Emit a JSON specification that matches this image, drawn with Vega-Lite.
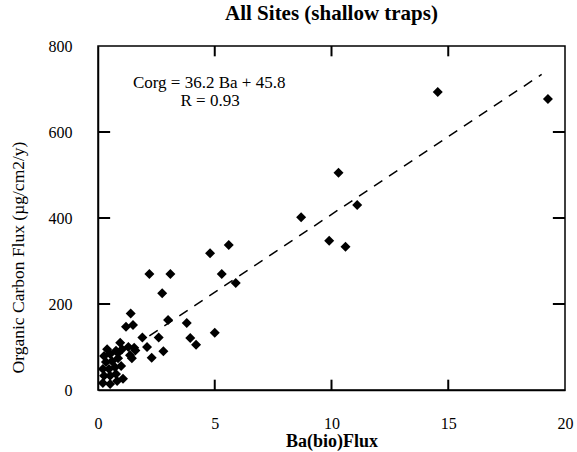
{
  "$schema": "https://vega.github.io/schema/vega-lite/v6.json",
  "width": 467,
  "height": 344,
  "autosize": {"type": "none"},
  "padding": {"left": 98, "top": 46, "right": 12, "bottom": 62},
  "background": "white",
  "config": {
    "font": "Liberation Serif",
    "view": {"stroke": "black", "strokeWidth": 1.5},
    "axis": {"grid": false, "domainColor": "black", "domainWidth": 1.5, "labelColor": "black", "titleColor": "black", "labelFont": "Liberation Serif", "titleFont": "Liberation Serif", "labelFontSize": 16}
  },
  "title": {"text": "All Sites (shallow traps)", "font": "Liberation Serif", "fontSize": 21, "fontWeight": "bold", "color": "black", "offset": 14, "anchor": "middle"},
  "datasets": {
    "pts": [
      {"ba": 14.55, "corg": 693}, {"ba": 19.27, "corg": 677}, {"ba": 10.3, "corg": 505},
      {"ba": 11.1, "corg": 430}, {"ba": 8.7, "corg": 402}, {"ba": 9.9, "corg": 347},
      {"ba": 10.6, "corg": 333}, {"ba": 5.6, "corg": 337}, {"ba": 4.8, "corg": 318},
      {"ba": 5.3, "corg": 270}, {"ba": 5.9, "corg": 249}, {"ba": 3.8, "corg": 156},
      {"ba": 3.95, "corg": 121}, {"ba": 4.2, "corg": 105}, {"ba": 5.0, "corg": 133},
      {"ba": 2.2, "corg": 270}, {"ba": 3.1, "corg": 270}, {"ba": 2.75, "corg": 225},
      {"ba": 1.4, "corg": 178}, {"ba": 1.2, "corg": 147}, {"ba": 1.5, "corg": 151},
      {"ba": 3.0, "corg": 163}, {"ba": 1.9, "corg": 122}, {"ba": 2.6, "corg": 122},
      {"ba": 2.1, "corg": 100}, {"ba": 2.8, "corg": 90}, {"ba": 2.3, "corg": 75},
      {"ba": 0.95, "corg": 110}, {"ba": 1.3, "corg": 100}, {"ba": 1.6, "corg": 92},
      {"ba": 0.86, "corg": 86}, {"ba": 1.45, "corg": 74},
      {"ba": 0.21, "corg": 16}, {"ba": 0.52, "corg": 14}, {"ba": 0.82, "corg": 21},
      {"ba": 1.07, "corg": 26}, {"ba": 0.26, "corg": 33}, {"ba": 0.52, "corg": 33},
      {"ba": 0.77, "corg": 37}, {"ba": 0.21, "corg": 49}, {"ba": 0.47, "corg": 49},
      {"ba": 0.73, "corg": 53}, {"ba": 0.99, "corg": 56}, {"ba": 0.34, "corg": 65},
      {"ba": 0.6, "corg": 67}, {"ba": 0.86, "corg": 74}, {"ba": 0.26, "corg": 79},
      {"ba": 0.52, "corg": 84}, {"ba": 0.77, "corg": 91}, {"ba": 1.03, "corg": 95},
      {"ba": 0.39, "corg": 95}, {"ba": 1.37, "corg": 81}, {"ba": 1.55, "corg": 98}
    ],
    "fit": [{"ba": 2.2, "corg": 126}, {"ba": 19.0, "corg": 734}],
    "notes": [
      {"ba": 4.76, "corg": 714, "label": "Corg = 36.2 Ba + 45.8"},
      {"ba": 4.8, "corg": 672, "label": "R = 0.93"}
    ],
    "hticks": [
      {"x": 0, "x2": 0.52, "y": 200}, {"x": 0, "x2": 0.52, "y": 400}, {"x": 0, "x2": 0.52, "y": 600},
      {"x": 19.48, "x2": 20, "y": 200}, {"x": 19.48, "x2": 20, "y": 400}, {"x": 19.48, "x2": 20, "y": 600}
    ],
    "vticks": [
      {"x": 5, "y": 0, "y2": 24}, {"x": 10, "y": 0, "y2": 24}, {"x": 15, "y": 0, "y2": 24},
      {"x": 5, "y": 776, "y2": 800}, {"x": 10, "y": 776, "y2": 800}, {"x": 15, "y": 776, "y2": 800}
    ]
  },
  "layer": [
    {
      "data": {"name": "pts"},
      "mark": {"type": "point", "shape": "diamond", "filled": true, "color": "black", "size": 100, "opacity": 1},
      "encoding": {
        "x": {"field": "ba", "type": "quantitative", "scale": {"domain": [0, 20], "nice": false},
          "axis": {"orient": "bottom", "values": [0, 5, 10, 15, 20], "ticks": false, "labelPadding": 25, "title": "Ba(bio)Flux", "titleFontSize": 18, "titleFontWeight": "bold", "titlePadding": 1, "labelFlush": false}},
        "y": {"field": "corg", "type": "quantitative", "scale": {"domain": [0, 800], "nice": false},
          "axis": {"orient": "left", "values": [0, 200, 400, 600, 800], "ticks": false, "labelPadding": 26, "title": "Organic Carbon Flux (µg/cm2/y)", "titleFontSize": 17.5, "titleFontWeight": "normal", "titleX": -80, "titleY": 211, "titleAngle": -90, "titleAlign": "center", "titleBaseline": "middle", "labelFlush": false}}
      }
    },
    {
      "data": {"name": "hticks"},
      "mark": {"type": "rule", "color": "black", "strokeWidth": 2},
      "encoding": {
        "x": {"field": "x", "type": "quantitative"},
        "x2": {"field": "x2"},
        "y": {"field": "y", "type": "quantitative"}
      }
    },
    {
      "data": {"name": "vticks"},
      "mark": {"type": "rule", "color": "black", "strokeWidth": 2},
      "encoding": {
        "x": {"field": "x", "type": "quantitative"},
        "y": {"field": "y", "type": "quantitative"},
        "y2": {"field": "y2"}
      }
    },
    {
      "data": {"name": "fit"},
      "mark": {"type": "line", "color": "black", "strokeWidth": 1.5, "strokeDash": [10, 8]},
      "encoding": {
        "x": {"field": "ba", "type": "quantitative"},
        "y": {"field": "corg", "type": "quantitative"}
      }
    },
    {
      "data": {"name": "notes"},
      "mark": {"type": "text", "font": "Liberation Serif", "fontSize": 17, "color": "black", "align": "center", "baseline": "middle"},
      "encoding": {
        "x": {"field": "ba", "type": "quantitative"},
        "y": {"field": "corg", "type": "quantitative"},
        "text": {"field": "label"}
      }
    }
  ]
}
